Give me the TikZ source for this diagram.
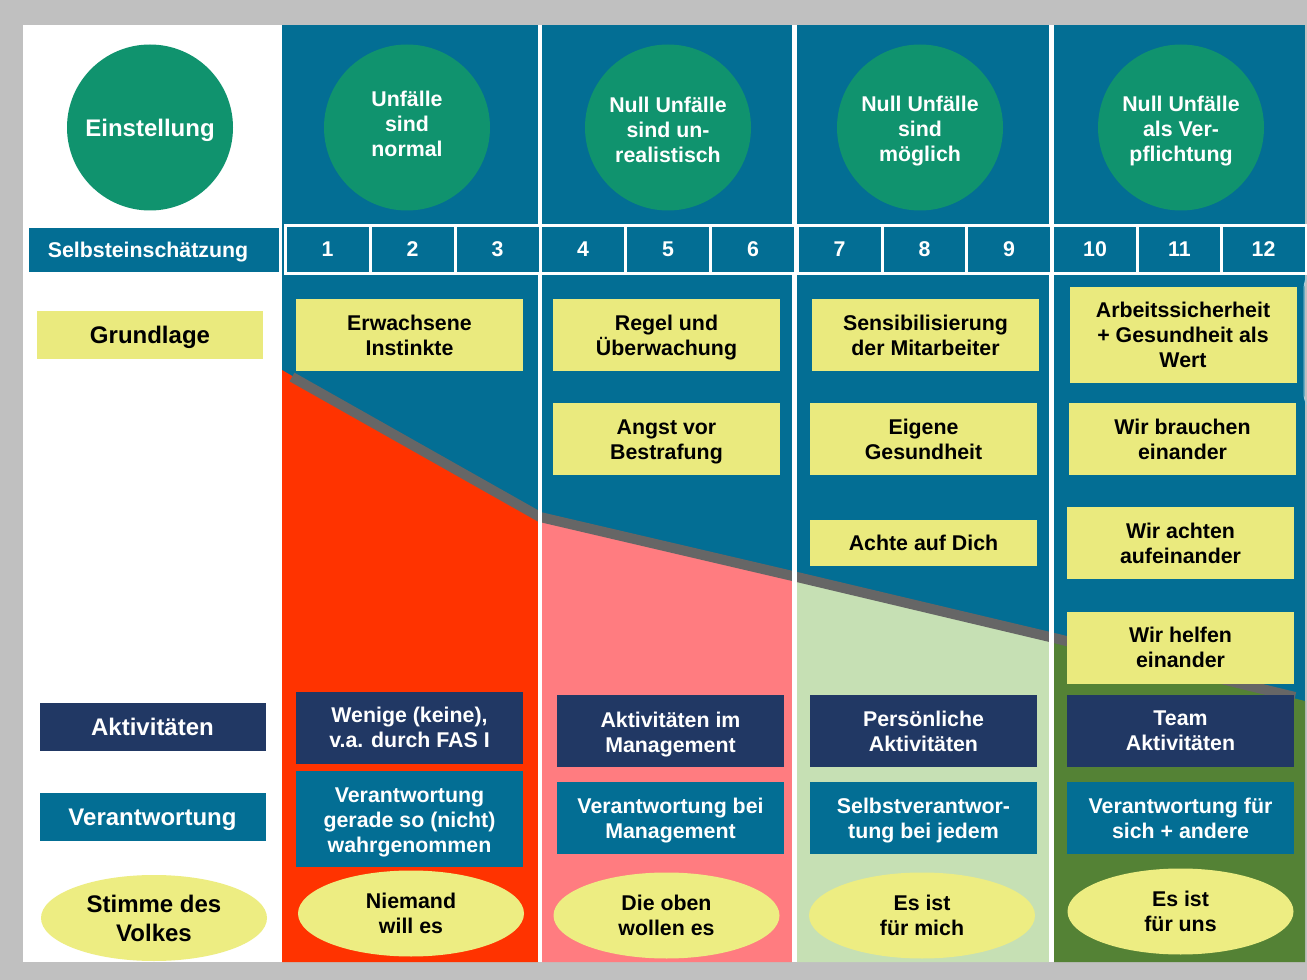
\documentclass[tikz,border=0pt]{standalone}
\usepackage{fontspec}
\setmainfont{Liberation Sans}
\usetikzlibrary{shapes.geometric}
\definecolor{bgray}{RGB}{192,192,192}
\definecolor{teal1}{RGB}{3,110,148}
\definecolor{navy}{RGB}{33,56,100}
\definecolor{cgreen}{RGB}{16,147,110}
\definecolor{yel}{RGB}{234,234,126}
\definecolor{yelL}{RGB}{237,237,130}
\definecolor{redA}{RGB}{255,51,0}
\definecolor{pinkA}{RGB}{255,124,128}
\definecolor{lgreen}{RGB}{198,224,180}
\definecolor{dgreen}{RGB}{84,130,53}
\definecolor{lineg}{RGB}{102,102,102}
\begin{document}
\begin{tikzpicture}[x=0.75pt,y=-0.75pt,
  base/.style={inner sep=0pt, outer sep=0pt, align=center, font=\bfseries\fontsize{16}{18.75}\selectfont},
  ybox/.style={base, rectangle, fill=yel, text=black, minimum width=170.25pt, minimum height=54pt},
  nbox/.style={base, rectangle, fill=navy, text=white, minimum width=170.25pt, minimum height=54pt},
  tbox/.style={base, rectangle, fill=teal1, text=white, minimum width=170.25pt, minimum height=54pt},
  yell/.style={base, ellipse, fill=yelL, text=black, minimum width=169.5pt, minimum height=64.5pt},
  circ/.style={base, circle, fill=cgreen, text=white, minimum size=124.5pt},
  numcell/.style={base, rectangle, fill=teal1, draw=white, line width=2.25pt, text=white, minimum width=63.75pt, minimum height=35.6pt},
  lab/.style={base, rectangle, text depth=0pt, font=\bfseries\fontsize{18}{21.75}\selectfont, minimum width=169.5pt, minimum height=36pt},
  wtxt/.style={base, text=white},
  btxt/.style={base, text=black}
]
\useasboundingbox (0,0) rectangle (1307,980);
% background
\fill[bgray] (0,0) rectangle (1307,980);
\fill[white] (23,25) rectangle (1305,962);
% columns
\fill[teal1] (282,25) rectangle (538,962);
\fill[teal1] (542,25) rectangle (792,962);
\fill[teal1] (797,25) rectangle (1049,962);
\fill[teal1] (1054,25) rectangle (1305,962);
% coloured areas under the line
\fill[redA] (282,370) -- (538,520) -- (538,962) -- (282,962) -- cycle;
\fill[pinkA] (542,521) -- (792,579) -- (792,962) -- (542,962) -- cycle;
\fill[lgreen] (797,580) -- (1049,639) -- (1049,962) -- (797,962) -- cycle;
\fill[dgreen] (1054,639) -- (1305,701) -- (1305,962) -- (1054,962) -- cycle;
% grey trend line
\draw[lineg, line width=7.5pt] (292,377) -- (540,517) -- (797,577) -- (1050,637) -- (1295,697);
% white separators
\fill[white] (538,273) rectangle (542,962);
\fill[white] (792,273) rectangle (797,962);
\fill[white] (1049,273) rectangle (1054,962);
% faint arc at the right edge
\draw[white!65!teal1, line width=0.75pt] (1307,276) .. controls (1304,284) .. (1304,298) -- (1304,390) .. controls (1304,398) .. (1307,405);
% header circles
\node[circ, text depth=0pt, font=\bfseries\fontsize{18}{21}\selectfont] (einst) at (150,127.5) {Einstellung};
\node[circ, label={[wtxt, yshift=3pt]center:Unfälle\\sind\\normal}] (c1) at (407,127.5) {};
\node[circ, label={[wtxt, yshift=-2pt]center:Null Unfälle\\sind un-\\realistisch}] (c2) at (668,127.5) {};
\node[circ, label={[wtxt, yshift=-2.5pt]center:Null Unfälle\\sind\\möglich}] (c3) at (920,127.5) {};
\node[circ, label={[wtxt, yshift=-2.5pt]center:Null Unfälle\\als Ver-\\pflichtung}] (c4) at (1181,127.5) {};
% Selbsteinschaetzung row
\node[base, fill=teal1, minimum width=187.5pt, minimum height=33pt,
  label={[wtxt, text depth=0pt, xshift=-4.5pt]center:Selbsteinschätzung}] (selbst) at (154,250) {};
\node[numcell] (n1) at (327.5,249.5) {1};
\node[numcell] (n2) at (412.5,249.5) {2};
\node[numcell] (n3) at (497.5,249.5) {3};
\node[numcell] (n4) at (583,249.5) {4};
\node[numcell] (n5) at (668,249.5) {5};
\node[numcell] (n6) at (753,249.5) {6};
\node[numcell] (n7) at (839.5,249.5) {7};
\node[numcell] (n8) at (924.5,249.5) {8};
\node[numcell] (n9) at (1009,249.5) {9};
\node[numcell] (n10) at (1095,249.5) {10};
\node[numcell] (n11) at (1179.5,249.5) {11};
\node[numcell] (n12) at (1263.5,249.5) {12};
% left labels
\node[lab, fill=yel, text=black] (grund) at (150,335) {Grundlage};
\node[lab, fill=navy, text=white] (akt) at (152.5,727) {Aktivitäten};
\node[lab, fill=teal1, text=white] (ver) at (152.5,817) {Verantwortung};
\node[yell, font=\bfseries\fontsize{18}{21.75}\selectfont] (stimme) at (154,918) {Stimme des\\Volkes};
% column 1
\node[ybox] (g1) at (409.5,335) {Erwachsene\\Instinkte};
\node[nbox] (a1) at (409.5,727.5) {Wenige (keine),\\v.a. durch FAS I};
\node[tbox, minimum height=72pt, label={[wtxt, yshift=-2.5pt]center:Verantwortung\\gerade so (nicht)\\wahrgenommen}] (v1) at (409.5,819) {};
\node[yell] (s1) at (411,913.5) {Niemand\\will es};
% column 2
\node[ybox, label={[btxt, yshift=-2.25pt]center:Regel und\\Überwachung}] (g2a) at (666.5,335) {};
\node[ybox, label={[btxt, yshift=-2.25pt]center:Angst vor\\Bestrafung}] (g2b) at (666.5,439) {};
\node[nbox, label={[wtxt, yshift=-2.5pt]center:Aktivitäten im\\Management}] (a2) at (670.5,731) {};
\node[tbox, label={[wtxt, yshift=-2.25pt]center:Verantwortung bei\\Management}] (v2) at (670.5,818) {};
\node[yell] (s2) at (666.5,915.5) {Die oben\\wollen es};
% column 3
\node[ybox] (g3a) at (925.5,335) {Sensibilisierung\\der Mitarbeiter};
\node[ybox] (g3b) at (923.5,439) {Eigene\\Gesundheit};
\node[ybox, minimum height=34.5pt] (g3c) at (923.5,543) {Achte auf Dich};
\node[nbox] (a3) at (923.5,731) {Persönliche\\Aktivitäten};
\node[tbox, label={[wtxt, yshift=-2.25pt]center:Selbstverantwor-\\tung bei jedem}] (v3) at (923.5,818) {};
\node[yell] (s3) at (922,915.5) {Es ist\\für mich};
% column 4
\node[ybox, minimum height=72pt] (g4a) at (1183,335) {Arbeitssicherheit\\+ Gesundheit als\\Wert};
\node[ybox] (g4b) at (1182.5,439) {Wir brauchen\\einander};
\node[ybox] (g4c) at (1180.5,543) {Wir achten\\aufeinander};
\node[ybox] (g4d) at (1180.5,647.5) {Wir helfen\\einander};
\node[nbox] (a4) at (1180.5,731) {Team\\Aktivitäten};
\node[tbox] (v4) at (1180.5,818) {Verantwortung für\\sich + andere};
\node[yell] (s4) at (1180.5,911.5) {Es ist\\für uns};
\end{tikzpicture}
\end{document}
